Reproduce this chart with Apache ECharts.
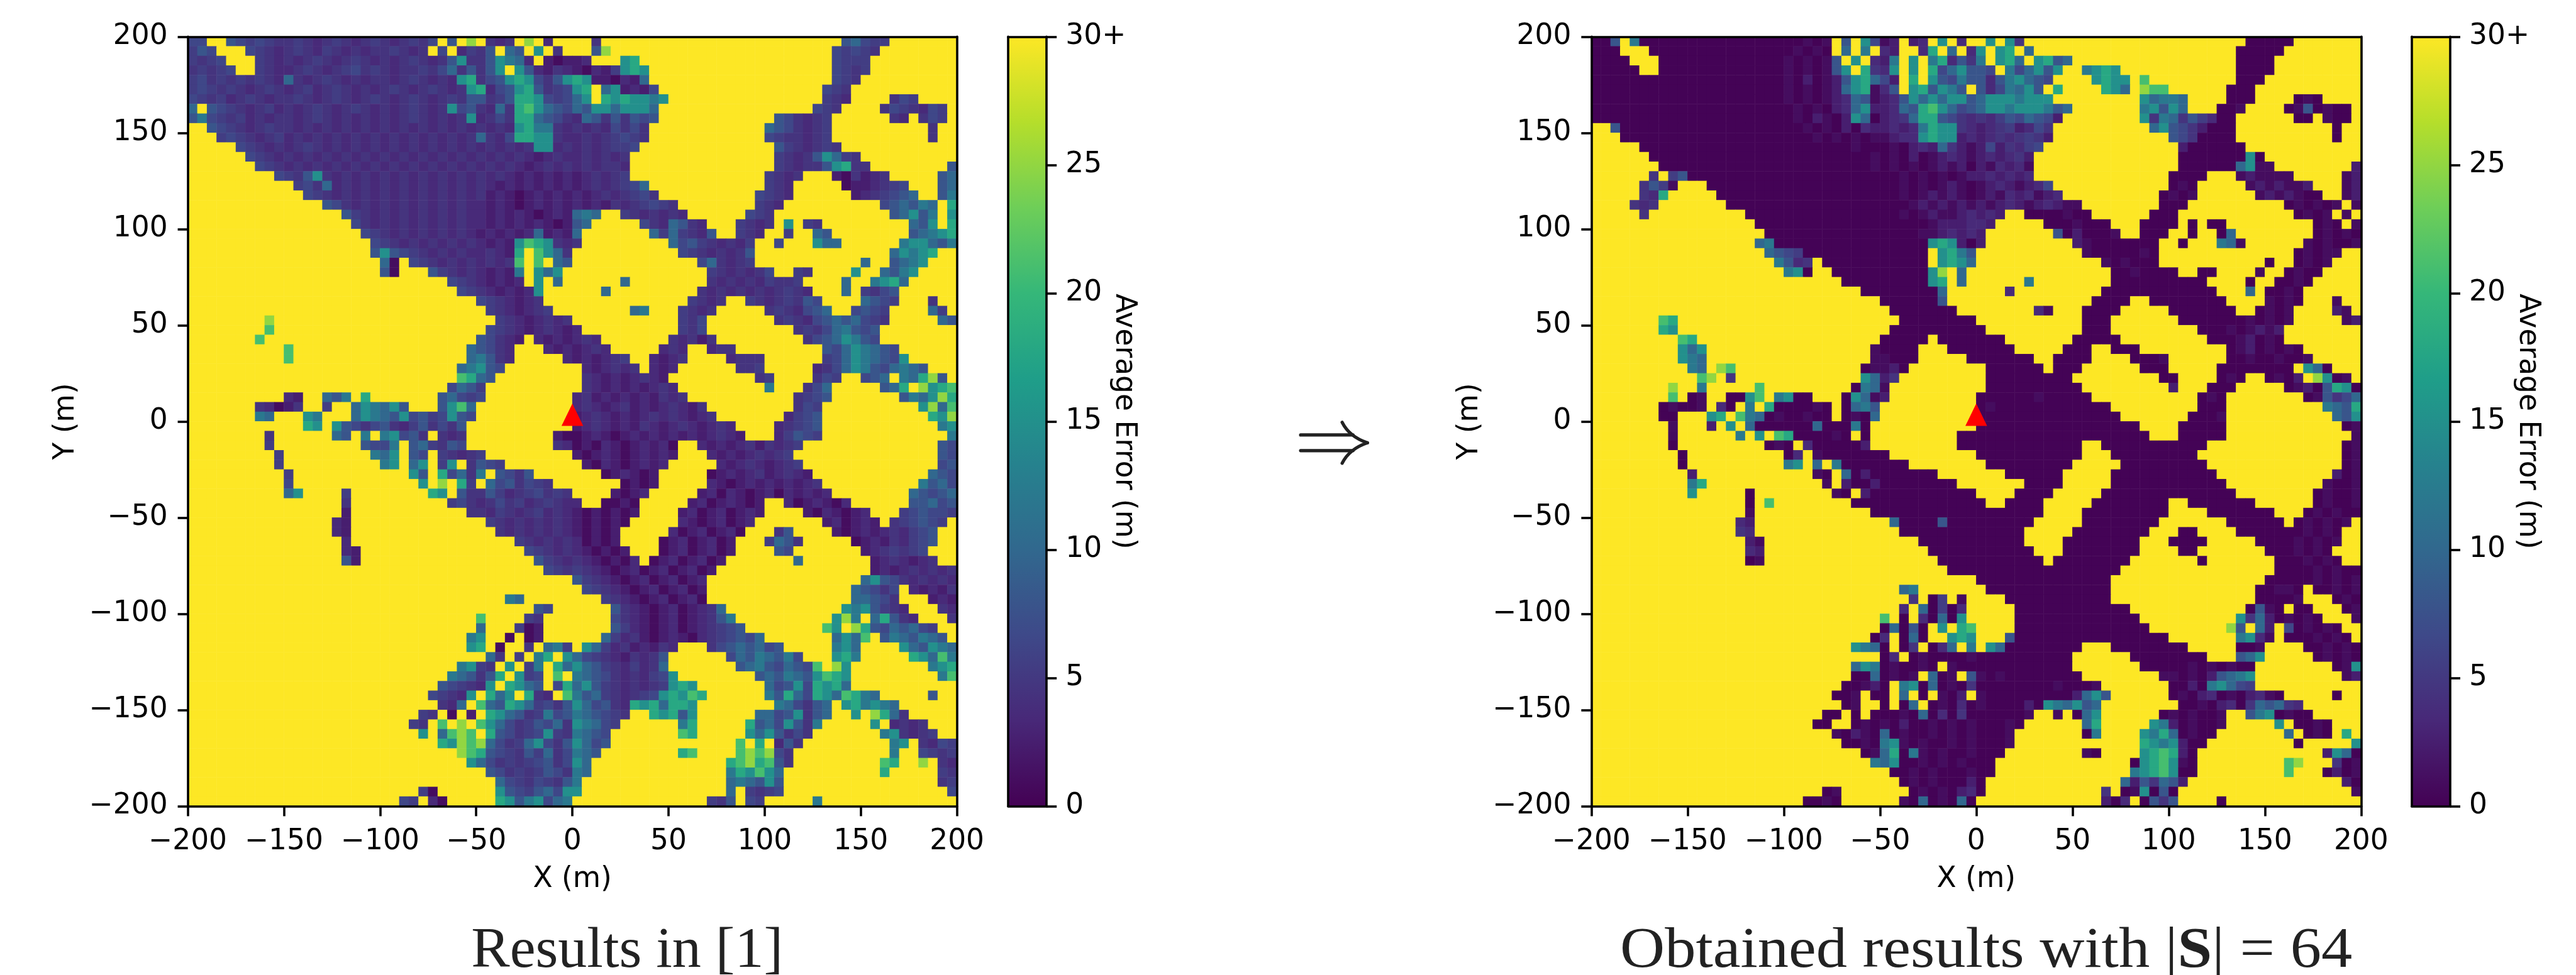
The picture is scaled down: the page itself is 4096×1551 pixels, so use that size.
<!DOCTYPE html>
<html><head><meta charset="utf-8">
<style>html,body{margin:0;padding:0;background:#fff}#c{width:4096px;height:1551px}</style>
<script src="https://cdn.jsdelivr.net/npm/echarts@6/dist/echarts.min.js"></script>
</head><body><div id="c"></div>
<script>
// cell size 5 m; row 0 is the top row (y 195..200); column 0 the left column (x -200..-195)
const cellCentersX = Array.from({length:80},(_, i)=>String(-197.5+5*i));
const cellCentersY = Array.from({length:80},(_, i)=>String(-197.5+5*i));
const errorLevels = {'0':0.2,a:1,b:2.5,c:3.5,d:4.5,e:5.5,f:6.5,g:8,h:10,i:12,j:15,k:18,l:21,m:25,'.':30};
const tickValues = [-200,-150,-100,-50,0,50,100,150,200];
const colorbarTicks = [0,5,10,15,20,25,30];
const colorbarMax = [30];
const viridis = ['#440154','#482878','#3e4989','#31688e','#26828e','#1f9e89','#35b779','#6ece58','#b5de2b','#fde725'];
const basePoint = [[0,3.5]];
const captionLeft = 'Results in [1]';
const captionRight = 'Obtained results with |{b|S}| = 64';

const resultsPrior = [
"ff..gfefed dedcdedcde dcdedf.g.m .dcd.m.c.. ..d....... .......... ........gh fee.......",
"egf...fedc dedcedcdcd dedcd.f.ce dg.hg.j.d. ..gm...... .......... .......fef ed........",
"edef...edc dcdedcdedc dcdedcdgjd dgjihc.bab bc...jk... .......... .......fee e.........",
"dedef..edc cdedcdefde dcddedfhdg dgj.jgcbdc bacbejkj.. .......... .......fed e.........",
"efdedededc hdcdedcdcd dcdedcdcjk dfgjkjfdgj kjbbacbh.. .......... .......fed ..........",
"efededcded cdecdedcdc dedcdedcdj kcfgjkgdef jk.hjbcbf. .......... ......fed. ..........",
"fedecdedcd dedcdedcde dcdedcdedg gdegkkjfef hj.kjkjjij .......... ......edc. ...dfe....",
"h.gfedcdec dcdedcdedc dcdedcdjfg dchdkljhgf hgjjhjjjh. .......... .....fed.. ..dfedcfe.",
"gifedecdcd dcdedcdcdc dcdedcdcdj cdfdkkhgfd chgdgdgfg. .......... .gfdcde... ...dc.dfe.",
"..gfedcded dcdcdcdcdc dcdcdcdcdc dcdcjkiidc dcdcfdfd.. .......... hgfdcde... .......d..",
"...efedcde cdcdcdcdcd cdcdcdcdcd hdcfkkjjdc cdcdefed.. .......... feddcde... .......d..",
".....fedcd cdedcdcdcd cdcdcdcdcd cdcdcdjjcd cdcdeef... .......... .gedcded.. ..........",
"......fedc dcdcdcdcdc dcdcdcdcdc dcdcdcbcdc cdcdcd.... .......... .edcdgjhed ..........",
".......fed cdcdcdcdcd cdcdcdcdcd cdcdcbcdcd cdcddc.... .......... .edcddgjkd d........g",
".........f edgjdcdcdc dcdcdcdcdc dcdcbcbcbc bcdcde.... .......... edcd...bad bcd.....gh",
".......... .efdhcdcdc dcdcdcdcdc dcbcbcbcbc bcdcdefh.. .......... edc.....ab bcdef...gh",
".......... ..fedcdcdc dcdcdcdcdc dbcbabcbcb cbcdcdefd. .........f edc......b cdefgh..gi",
".......... ....gfdcdc dcdcdcdcdc cbcbabcbcb cbcbdcdefe d........e dc........ ..fghgih.k",
".......... ......gedc dcdcdcdcdc cbcbcbabcb hih..edcdc dc......fe d......... ...ghjgi.j",
".......... .......fdc dcdcdcdcdc cbcbcbcbab gh.....fdc hgdc...edc d.j.ed.... .....hgj.k",
".......... ........fe dcdcdcdcdc bcbcbchbcb h.......he hedcg..edc ..e..hg... .....ghijk",
".......... .........f edcdcdcdcd cbcbjlkjdc d......... hfgedcdce. .f...jhh.. ....ijjhgi",
".......... .........g jgfedcdcdc cdcbk.ljhd .......... .fedcdcdg. .......... ...hjijk..",
".......... .......... ha.fedcdcd cdcdl.l.hg .......... ...fhdcde. .......... h..ghij...",
".......... .......... ga...gedcd cbcbi.jhj. .......... ....edcdcd f..ed....j ..hgij....",
".......... .......... .......fed cbcbc.j.h. .....h.... ....dcdcdc edde....h. .ijkh.....",
".......... .......... ........fe dcbcbcj... ...h...... ...dcdcdcd cdedc...h. edfg......",
".......... .......... .......... fedcbcd... .......... ..edcd..ed cdedgf.... hgfe...d..",
".......... .......... .......... .edcbcde.. ......hi.. .edcd..... dedcfgh..f gfe....he.",
"........m. .......... .......... ..edcbcdcd .......... .edf...... .dedcfghgh fed.....hg",
"........l. .......... .......... .fedcbcdcb c......... .edf...... ...dedfhig fg........",
".......l.. .......... .......... gfdcb.cbcb cdc....... dcdbd..... ....dfghji gf........",
".......... l......... .........h gfdc...cbc bcdc.....c dc..cdd... ......gfhj ihgf......",
".......... l......... .........h igdc.....c bcbcde..cb cd....cddd ......efhj ihgfj.....",
".......... .......... ........hi jgf....... .cbcdcd.cb c......dde .....cdfhj igfhihg...",
".......... .......... ........lk hg........ .dcbcbcdcb .........d e....dfe.. fgh.ihkmg.",
".......... .......... .......fhg e......... .dcbcbcbcd c......... i...dfh... ..ghk.mjkl",
".......... cb..hgi.k. ......ghfe f......... cdbcbcbcbd cd........ ...defg... ....gihjmk",
".......dca bd..e..hji hjg...gjlh .......... cdcbcdbcbc dcbd...... ...dfe.... ......jmhl",
".......ih. ..ji...hji hgjfgefjgf .......... bcdcbcbcdc dcbcd..... ..cefg.... .......kjm",
".......... ..kj.jgfdf gdcegdfdg. .......... bcdcbcbdcb cdcbcdc... .cdefg.... ........ij",
"........d. .....hg.i. ijfgd.dcd. ........ba abcbabcbcb cbcbcdcb.. .cegfe.... .........i",
"........e. ........gf fi.ghedgf. ........dc abacbabcbc a..cbcbcdb dcde...... ........gf",
".........e .........i hj.gf.edcd e......... babcbabcbc b...cbcbcd cde....... ........gf",
".........e .......... ij.hj.ej.d gfe....... .bacbabcbc .....cbcdc bcde...... ........fg",
".......... e......... ...jg.kfhd i.gfdg.... ...abcbab. ....abcbcd bcdcb..... .......hgf",
".......... f......... ....j.m.ke .hfgdfed.. .....abab. ....cbabcb cbcbcd.... ......ighf",
".......... hj....e... .....kj.gd dgecdefded ....babc.. ...bcacbab cacbcbc... .....hgfgh",
".......... ......d... .......efd cdfdecdedc c..aaba... ..bcabcbab ..cabcbac. .....gghfg",
".......... ......b... .........d dcedcdecdc bababab... .bcabcabcb ....bacbab c...efgffe",
".......... .....cb... .......... .edcdcdcdc bababa.... .cbabcabc. ......bcab cb.defgfe.",
".......... .....cb... .......... ..dcdcdcdc babab..... cabcabca.. .dg....bab cbcdcefg..",
".......... ......c... .......... ....edcdcd cabab....a bcabcab... ehgd.....a bcbdcefg..",
".......... ......cb.. .......... .....fedcd cbabab...a bcabcab... .gf....... bcdedef...",
".......... ......gb.. .......... ......gedc dcbabac.ab cabcab.... ...h...... .bcdcbcd..",
".......... .......... .......... .......fed edcbabcabc abcab..... .......... .bcbcdcdcd",
".......... .......... .......... .......... gedcbabcab cabc...... .......... hjgfdcdcdc",
".......... .......... .......... .......... .fedcbabca bcab...... .........h gfdf.cbcbd",
".......... .......... .......... ...ih..... ...edcbabc abca...... .........h hgfd...bcb",
".......... .......... .......... ......gf.. ....gdcbab cabcdh.... ........ji jgedc...dc",
".......... .......... .......... l....ed... ....fdcbab cabcdgi... .......jmi .hkgdc...d",
".......... .......... .......... h...eab... ....gecbab cabcdefg.. ......lj.m kgfhghfe..",
".......... .......... .........i j..a.ab... ...hecdbab cbacdefgfh .......hjh l.gihgihg.",
".......... .......... .........j k.a..d.hie .jhecdbcbd c...dfghgh fg.....ijh ....jhgjih",
".......... .......... .......... .hd.e.ik.j hfedcbdcdg ......fhgi hgif...jki .....kjhli",
".......... .......... ........ij ed.j.ei.kh jhgedcecdh .......ghi gfhgfl.mj. .......ijk",
".......... .......... .......ihg dgk.jef.l. ihgfdcdcef j........g hgihgjlkj. ........il",
".......... .......... ......gfed cj.kjhg.fk hjgedcdcde jkj....... hfgjfkjkh. ..........",
".......... .......... .....fedcj .khj.kdc.l ighedcdefj kjlk...... igkhfkjhlk ih.....g..",
".......... .......... ......dch. lhgkjhefdg jhfgdckjkh kkj....... .ihfdgh.jk ijih......",
".......... .......... ....ed.a.b .kjhgdeifg ihgfed..kj kgj......h hfgjdgh..j .mkhd.....",
".......... .......... ...ed.l.m. ljhfdegfhd jihfe..... .ik.....kg hfjgdi.... .j.cdcd...",
".......... .......... ....j.hlml .kgfdefjed ihgf...... .lk.....jh jgdfd..... ..ijdcde..",
".......... .......... ......kjml mhfdehjfdg jhfg...... .......l.k .cgd...... ...ij.dcfe",
".......... .......... ........ml kgfedgehdf ihg....... .kl....lml mfd....... ...i..fede",
".......... .......... .........j hfdedefgdf jh........ ......klmk lgd....... ..lk..m.dc",
".......... .......... .......... .gfdedegfd ih........ ......ikjl jh........ ..k.....ed",
".......... .......... .......... ..hfedfedg i......... ......hihg jg........ ........de",
".......... .......... ....ea.... ..jgfeghfj j......... ......h.ed ef........ .........f",
".......... .......... ..fe.ca... ..kjgijfhi .......... ....edg.fe .....i.... .........."
];

const resultsObtained = [
"00g.i00000 0000000000 00a0a.g.jf ab.bc.j.c. .j.jd..... .......... ........00 000.......",
"000...0000 0000000000 0a0a0.h.i. cb..ck.h.c j.jk.h.... .......... .......000 00........",
"0000...000 0000000000 a0a0ag.j.c bi.j.ikcgd i.jkh.jkgh .......... .......000 0.........",
"00000..000 0000000000 a0a0agj.kd cj.j.kfhjg gf.ifhjgj. .ijkj..... .......000 0.........",
"0000000000 0000000000 a0b0abgjkh fb.k.jgfig gcgijhgf.. ..jkjj.l.. .......000 ..........",
"0000000000 0000000000 a0a0abhjka cg.jkgjig. gcfihjg.k. ...kjh.mll ......000. ..........",
"0000000000 0000000000 a0a0abchga bcgjhjhjjg hjjjijjj.. .......jhi ih....000. ...0a0....",
"0000000000 0000000000 0a0a0bchjb bchgkljhfg hjjijjjigh .......ijg jh...00a.. ..0ag0a00.",
"0000000000 0000000000 0a0ba0bjh0 bcdhkkgfdc dcegfhgfb. .......jdi hdgec00... ...00.a00.",
"..g0000000 0000000000 00a0a0b0cb bcbcikjjdc bcdebcfd.. ........hj gfdb000... .......0..",
"...0000000 0000000000 000a0a0a0a abccjkjjbc bcdcdedb.. .......... gfd0000... .......0..",
".....00000 0000000000 0000000a00 0a0bcbhdba bfbdcef... .......... .b000000.. ..........",
"......0000 0000000000 000000000a 0a0b0abcba bcbcdb.... .......... .0000000j0 ..........",
".......000 0000000000 000000000a 0a0a0abab0 bacbca.... .......... .000000hja a........b",
"......d.eg 0000000000 0000000000 00a0a0a0ab bcbcbc.... .......... 0000...aba aaa.....ab",
".....dgea. ..00000000 0000000000 00a0a0aba0 abcbabcf.. .......... 0a0.....ab abaab...ab",
".....dck.. ...0000000 0000000000 00a0ababa0 abacbcabc. .........0 a0a......a baba00..ab",
"....dcd... ....000000 0000000000 000abababa babcbabcba a........0 00........ ..0a0a0a.a",
".....d.... ......0000 0000000000 00a0abaabc bcb..0000a 00......00 0......... ...0a0a.a.",
".......... .......000 0000000000 00000abbbc cb.....000 a000...000 0.0.00.... .....0a0.a",
".......... ........00 0000000000 0000aabcbc b.......g0 b000a..000 ..0..0h... .....0a0a0",
".......... .......hi0 0000000000 00000jkjb0 b......... ba0000000. .0...iha.. ....a0a00a",
".......... ........hg fe00000000 00000.jkig .......... .a00000a0. .......... ...0a0aa..",
".......... .........i gcd.000000 00000.jkjh .......... ...a0a000. .......... 0..0a0a...",
".......... .......... ij0..00000 00000jm.h. .......... ....00a000 0..00....a ..0a00....",
".......... .......... ......0000 00000jk.h. .....i.... ....000000 0000....0. .00a0.....",
".......... .......... ........00 000000h... ...c...... ...0000000 00000...h. 00a0......",
".......... .......... .......... 000000g... .......... ..0000..00 000000.... a0a0...a..",
".......... .......... .......... .0000000.. ......ca.. .0000..... 0000000..0 a0a....ba.",
".......lk. .......... .......... ..00000000 .......... .000...... .0000000a0 a0a.....ab",
".......kj. .......... .......... .000000000 0......... .000...... ...000a0ab ab........",
".........l k......... .......... 00000.0000 000....... 00000..... ....000ab0 a0........",
".........j hj........ .........a 0000...000 0000.....0 00..000... ......0ab0 a0a0......",
".........j ih........ .........a a000.....0 000000..00 00....000a ......00a0 0a00a.....",
".......... ih.ml..... ........0a ab0....... .000000.00 0......000 .....00000 000.jh0...",
".......... .lm.d..... ........jh bd........ .000000000 .........0 0....0a0.. 0a0b.mj0a.",
"........m. .i.....l.. .......0ih a......... .000000000 0......... b...000... ..0ab0gkj0",
"........l. 0a..00jl.i j00...0jha b......... 000000a000 00........ ...0a0.... ....0agdfh",
".......0a0 0a.c0.i.k0 000a0.0hig .......... 0a00000000 0000...... ...000.... ......ihgk",
".......00. ..jk.lih0a 00a00.0a0h .......... 0000000000 00000..... ..000a.... .......hgj",
"........a. ..b.j.h000 000h000i0. .......... 0000000000 0000000... .00000.... ........0a",
"........a. .....i.j.l k0000a0.0. ........00 0000000000 00000000.. .00000.... .........a",
"........0. ........0a 0.c00000b. ........00 0000000000 0..0000000 0000...... ........0a",
".........0 .......... 0c.a000000 0......... 0000000000 0...000000 000....... ........0a",
".........0 .......... ij.h.i0000 000....... .000000000 .....00000 0000...... ........0a",
".......... b......... ...a0.h0b0 000000.... ...000000. ....000000 00000..... .......b0a",
".......... ik........ ....a.b00b 00000000.. .....0000. ....000000 000000.... ......a00a",
".......... j.....0... .....a0.b0 0000000000 ....0000.. ...0000000 0000000... .....0a00a",
".......... ......0.l. .......000 0000000000 0..0000... ..00000000 ..0000000. .....0a00a",
".......... ......a... .........0 0000000000 0000000... .000000000 ....000000 0...0a0a00",
".......... .....cb... .......... .h0000g000 000000.... .00000000. ......0000 00.0a0a0a.",
".......... .....dc... .......... ..00000000 00000..... 00000000.. .00....000 0000a0a0..",
".......... ......ba.. .......... ....000000 00000....0 0000000... 0000.....0 000a0a0a..",
".......... ......cb.. .......... .....00000 000000...0 0000000... .00....... 000a0a0...",
".......... ......0a.. .......... ......0000 0000000.00 000000.... ...0...... .000a0a0..",
".......... .......... .......... .......000 0000000000 00000..... .......... .0000a0a00",
".......... .......... .......... .......... 0000000000 0000...... .......... 00000a0a0a",
".......... .......... .......... ..hi...... .000000000 0000...... .........0 0aa0.00a0a",
".......... .......... .......... ...d.0e.a. ...0000000 0000...... .........0 000a...0a0",
".......... .......... .......... ..c.h0e0c. ....000000 000000.... ........0g a0.00...0a",
".......... .......... .......... l.0.c0h0j. ....000000 0000000... .......jdh b0a0a0...a",
".......... .......... .......... 0h0g0.j.kl ....000000 00000000.. ......mg.h b.f0a0a0..",
".......... .......... .........0 c.0h0..jkj ...g000000 0000000000 .......ijc a.000a0a0.",
".......... .......... .......jih 0.0d.0ch.i .jh0000000 0...000000 00.....00a ....00a0a0",
".......... .......... .......... 0c.0a0000a 0000000000 ......0000 0000...ghj .....0a0a0",
".......... .......... .......hji 0a00a0.a00 0000000000 .......000 00a0a0a00. .......0aj",
".......... .......... .......00h 0a0a.h0a.g a0a0000000 0........a a0a0bghij. ........ab",
".......... .......... ......00ab 0.ij0h0a0d 00000000a0 00a....... 00b0ijhfe. ..........",
".......... .......... .....00a.0 0.h.0.a0b. a000000000 bhjg...... 0a0bc0a0bc a0.....0..",
".......... .......... ......0a.. 0.0h.0a0c0 a0000b0jih jgh....... .00a0bc0dh ghdc......",
".......... .......... ....00.0.0 00a0h0c0d0 00000a..a. 0hj......0 a0a00a..gi j0a00.....",
".......... .......... ...00..0a0 a0b00a0a0a 000a0..... .hk.....ji b0a00a.... .j.00a0...",
".......... .......... .....a0ba0 h0a00a0a0a 000a...... .0i....jik h0a00..... ..h.0a0.k.",
".......... .......... ......00a0 ija0a00a0a 000a...... .......kji jb00...... ...0.....j",
".......... .......... ........0a hk0ia0a00a 000....... .a0....jkl kb0....... ......bjh0",
".......... .......... .........i hj00a0a0a0 00........ ......0jkl ja0....... ..lm...d0a",
".......... .......... .......... .00a0a000a 00........ ......ijkl j00....... ..l...0b0a",
".......... .......... .......... ..0a0a000b 0......... .....hbgdh gb........ ........b0",
".......... .......... ....0a.... ...0a0a0bc 0......... ...d.0aj0g 0......... .........a",
".......... .......... ..00a0.... ..a0h0a0h0 .......... ...b0c.0gd g....0.... .........."
];

function toCells(rows){
  const out=[];
  rows.forEach((row,r)=>{
    const line=row.split(' ').map(b=>(b+'..........').slice(0,10)).join('');
    for(let c=0;c<80;c++) out.push([c,79-r,errorLevels[line[c]]??30]);
  });
  return out;
}

const S=4096/4280;
const font='"DejaVu Sans"';
const fs=45.5, lw=3.6, tl=16;
const gridTop=61*S, gridH=1279*S;
const panels=[{l:312*S,w:1278*S,cb:1675*S},{l:2644*S,w:1279*S,cb:4007*S}];
const cbW=64*S;
const axisLineStyle={show:true,onZero:false,lineStyle:{color:'#000',width:lw}};
const tick={show:true,length:tl,lineStyle:{color:'#000',width:lw}};
const lab={show:true,color:'#000',fontFamily:font,fontSize:fs,margin:32};
const minus=v=>String(v).replace('-','\u2212');
const nameStyle={color:'#000',fontFamily:font,fontSize:fs};

const grid=[],xAxis=[],yAxis=[],series=[];
panels.forEach((p,i)=>{
  const g=grid.length;
  grid.push({left:p.l,top:gridTop,width:p.w,height:gridH,containLabel:false});
  const xv=xAxis.length;
  xAxis.push({gridIndex:g,type:'value',position:'bottom',min:-200,max:200,interval:50,z:5,
    axisLine:axisLineStyle,axisTick:tick,splitLine:{show:false},
    axisLabel:Object.assign({},lab,{margin:34,formatter:minus,hideOverlap:false,showMinLabel:true,showMaxLabel:true}),
    name:'X (m)',nameLocation:'middle',nameGap:94,nameTextStyle:nameStyle});
  const xc=xAxis.length;
  xAxis.push({gridIndex:g,type:'category',position:'top',data:cellCentersX,z:5,
    axisLine:axisLineStyle,axisTick:{show:false},axisLabel:{show:false},splitLine:{show:false},splitArea:{show:false}});
  const yv=yAxis.length;
  yAxis.push({gridIndex:g,type:'value',position:'left',min:-200,max:200,interval:50,z:5,
    axisLine:axisLineStyle,axisTick:tick,splitLine:{show:false},
    axisLabel:Object.assign({},lab,{formatter:minus,showMinLabel:true,showMaxLabel:true}),
    name:'Y (m)',nameLocation:'middle',nameGap:170,nameRotate:90,nameTextStyle:nameStyle});
  const yc=yAxis.length;
  yAxis.push({gridIndex:g,type:'category',position:'right',data:cellCentersY,z:5,
    axisLine:axisLineStyle,axisTick:{show:false},axisLabel:{show:false},splitLine:{show:false},splitArea:{show:false}});
  series.push({type:'heatmap',xAxisIndex:xc,yAxisIndex:yc,data:toCells(i===0?resultsPrior:resultsObtained),progressive:0,silent:true,emphasis:{disabled:true}});
  series.push({type:'scatter',xAxisIndex:xv,yAxisIndex:yv,data:basePoint,symbol:'triangle',symbolSize:[34.5,35.5],itemStyle:{color:'#ff0000',opacity:1},z:4,silent:true});
});
panels.forEach(p=>{
  const g=grid.length;
  grid.push({left:p.cb,top:gridTop,width:cbW,height:gridH,containLabel:false});
  const xb=xAxis.length;
  xAxis.push({gridIndex:g,type:'category',position:'bottom',data:['Average Error'],z:5,
    axisLine:axisLineStyle,axisTick:{show:false},axisLabel:{show:false}});
  xAxis.push({gridIndex:g,type:'category',position:'top',data:['Average Error'],z:5,
    axisLine:axisLineStyle,axisTick:{show:false},axisLabel:{show:false}});
  const yr=yAxis.length;
  yAxis.push({gridIndex:g,type:'value',position:'right',min:0,max:30,interval:5,z:5,
    axisLine:axisLineStyle,axisTick:tick,splitLine:{show:false},
    axisLabel:Object.assign({},lab,{margin:30,formatter:v=>v===colorbarTicks[6]?'30+':String(v)}),
    name:'Average Error (m)',nameLocation:'middle',nameGap:100,nameMoveOverlap:false,nameRotate:-90,nameTextStyle:nameStyle});
  yAxis.push({gridIndex:g,type:'value',position:'left',min:0,max:30,interval:5,z:5,
    axisLine:axisLineStyle,axisTick:{show:false},axisLabel:{show:false},splitLine:{show:false}});
  series.push({type:'bar',xAxisIndex:xb,yAxisIndex:yr,data:colorbarMax,barWidth:'100%',silent:true,
    itemStyle:{color:new echarts.graphic.LinearGradient(0,1,0,0,viridis.map((c,i)=>({offset:i/(viridis.length-1),color:c})))}});
});

const chart=echarts.init(document.getElementById('c'),null,{renderer:'canvas',width:4096,height:1551});
const cap='#222';
const arrowStyle={stroke:'#222',lineWidth:5.2,lineCap:'round',fill:null};
chart.setOption({
  animation:false,backgroundColor:'#fff',
  grid,xAxis,yAxis,series,
  visualMap:{show:false,type:'continuous',seriesIndex:[0,2],min:0,max:30,inRange:{color:viridis}},
  graphic:[
    {type:'text',x:1042*S,y:1582*S,style:{text:captionLeft,font:'92px "Liberation Serif"',fill:cap,align:'center',verticalAlign:'middle'}},
    {type:'text',x:3300*S,y:1582*S,scaleX:1.07,style:{text:captionRight,font:'92px "Liberation Serif"',fill:cap,align:'center',verticalAlign:'middle',
      rich:{b:{font:'bold 92px "Liberation Serif"',fill:cap}}}},
    {type:'line',shape:{x1:2161*S,y1:723*S,x2:2248*S,y2:723*S},style:arrowStyle},
    {type:'line',shape:{x1:2161*S,y1:749*S,x2:2248*S,y2:749*S},style:arrowStyle},
    {type:'bezierCurve',shape:{x1:2230*S,y1:702*S,x2:2272*S,y2:736*S,cpx1:2242*S,cpy1:726*S},style:arrowStyle},
    {type:'bezierCurve',shape:{x1:2230*S,y1:770*S,x2:2272*S,y2:736*S,cpx1:2242*S,cpy1:746*S},style:arrowStyle}
  ]
});
</script></body></html>
